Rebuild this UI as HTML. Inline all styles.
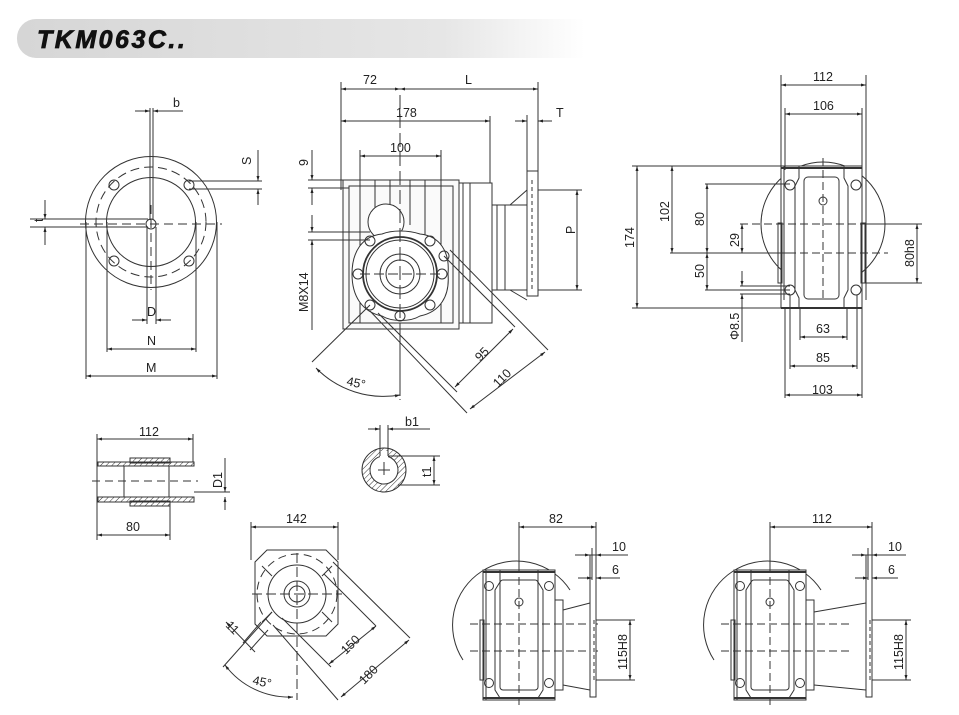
<!DOCTYPE html>
<html><head><meta charset="utf-8"><style>
html,body{margin:0;padding:0;background:#fff;width:959px;height:715px;overflow:hidden}
svg{display:block}
text{font-family:"Liberation Sans",Arial,sans-serif;font-size:12.5px;fill:#222}
</style></head><body>
<svg width="959" height="715" viewBox="0 0 959 715" xmlns="http://www.w3.org/2000/svg">
<defs>
<linearGradient id="tg" x1="0" x2="1" y1="0" y2="0">
<stop offset="0" stop-color="#d6d6d6"/><stop offset="0.75" stop-color="#e6e6e6"/><stop offset="1" stop-color="#fff"/>
</linearGradient>
<marker id="a" viewBox="0 0 10 10" refX="10" refY="5" markerWidth="7" markerHeight="5" orient="auto-start-reverse"><path d="M0,2 L10,5 L0,8z" fill="#222"/></marker>
<pattern id="h" width="4" height="4" patternUnits="userSpaceOnUse" patternTransform="rotate(45)"><line x1="0" y1="0" x2="0" y2="4" stroke="#333" stroke-width="1"/></pattern>
</defs>
<!-- title -->
<path d="M36,19 H585 V58 H36 A19,19 0 0 1 17,39 A19,19 0 0 1 36,19z" fill="url(#tg)"/>
<text x="37" y="48" style="font-size:25px;font-weight:bold;font-style:italic;fill:#111;letter-spacing:2.5px;stroke:#111;stroke-width:0.8">TKM063C..</text>

<g stroke="#333" stroke-width="1" fill="none">
<!-- VIEW 1 flange -->
<circle cx="151" cy="222" r="65.5"/>
<circle cx="151" cy="222" r="55" stroke-dasharray="9,5"/>
<circle cx="151" cy="222" r="44.5"/>
<circle cx="114" cy="185" r="5"/><circle cx="189" cy="185" r="5"/>
<circle cx="114" cy="261" r="5"/><circle cx="189" cy="261" r="5"/>
<circle cx="151" cy="224" r="5"/>
<line x1="80" y1="224" x2="222" y2="224" stroke-dasharray="9,5"/>
<line x1="151" y1="205" x2="151" y2="290" stroke-dasharray="9,5"/>
<line x1="150" y1="108" x2="150" y2="220"/><line x1="153" y1="108" x2="153" y2="220"/>
<line x1="135" y1="111" x2="150" y2="111" marker-end="url(#a)"/><line x1="183" y1="111" x2="153" y2="111" marker-end="url(#a)"/>
<line x1="189" y1="181" x2="262" y2="181"/><line x1="189" y1="189" x2="262" y2="189"/>
<line x1="258" y1="150" x2="258" y2="181" marker-end="url(#a)"/><line x1="258" y1="205" x2="258" y2="189" marker-end="url(#a)"/>
<line x1="30" y1="219" x2="148" y2="219"/><line x1="30" y1="227" x2="148" y2="227"/>
<line x1="45" y1="200" x2="45" y2="219" marker-end="url(#a)"/><line x1="45" y1="245" x2="45" y2="227" marker-end="url(#a)"/>
<line x1="147" y1="227" x2="147" y2="324"/><line x1="156" y1="227" x2="156" y2="324"/>
<line x1="132" y1="320" x2="147" y2="320" marker-end="url(#a)"/><line x1="171" y1="320" x2="156" y2="320" marker-end="url(#a)"/>
<line x1="107" y1="222" x2="107" y2="352"/><line x1="196" y1="222" x2="196" y2="352"/>
<line x1="107" y1="349" x2="196" y2="349" marker-start="url(#a)" marker-end="url(#a)"/>
<line x1="86" y1="222" x2="86" y2="379"/><line x1="217" y1="222" x2="217" y2="379"/>
<line x1="86" y1="376" x2="217" y2="376" marker-start="url(#a)" marker-end="url(#a)"/>

<!-- VIEW 2 main -->
<rect x="343" y="180" width="116" height="149" fill="#fafafa"/>
<rect x="349" y="186" width="104" height="137"/>
<line x1="360" y1="186" x2="360" y2="323"/><line x1="441" y1="186" x2="441" y2="323"/>
<line x1="375" y1="180" x2="375" y2="222"/><line x1="425" y1="180" x2="425" y2="240"/>
<line x1="410" y1="180" x2="410" y2="225"/><line x1="390" y1="180" x2="390" y2="205"/>
<rect x="459" y="183" width="33" height="140"/>
<line x1="463" y1="183" x2="463" y2="323"/><line x1="470" y1="183" x2="470" y2="323"/>
<path d="M492,205 H527 M492,290 H527 M497,205 V290 M505,205 V290 M510,205 L527,190 M510,290 L527,300"/>
<rect x="527" y="171" width="11" height="125"/>
<line x1="532" y1="180" x2="532" y2="290" stroke-dasharray="4,3"/>
<circle cx="386" cy="222" r="18" fill="#fff"/>
<path d="M352,274 C352,252 362,236 382,234 C392,230 408,230 420,234 C440,236 450,252 448,274 C450,296 440,312 420,316 C410,322 392,322 382,316 C362,312 352,296 352,274z" fill="#fff"/>
<circle cx="400" cy="274" r="37" stroke-width="1.8"/>
<circle cx="400" cy="274" r="34"/>
<circle cx="400" cy="274" r="20"/><circle cx="400" cy="274" r="14"/>
<circle cx="370" cy="241" r="5"/><circle cx="430" cy="241" r="5"/>
<circle cx="358" cy="274" r="5"/><circle cx="442" cy="274" r="5"/>
<circle cx="370" cy="305" r="5"/><circle cx="430" cy="305" r="5"/>
<circle cx="400" cy="316" r="5"/><circle cx="444" cy="256" r="5"/>
<line x1="400" y1="95" x2="400" y2="400" stroke-dasharray="14,5"/>
<line x1="360" y1="274" x2="440" y2="274" stroke-dasharray="10,4"/>
<line x1="341" y1="82" x2="341" y2="190"/><line x1="538" y1="82" x2="538" y2="171"/>
<line x1="341" y1="89" x2="400" y2="89" marker-start="url(#a)" marker-end="url(#a)"/>
<line x1="400" y1="89" x2="538" y2="89" marker-start="url(#a)" marker-end="url(#a)"/>
<line x1="490" y1="116" x2="490" y2="183"/>
<line x1="341" y1="121" x2="490" y2="121" marker-start="url(#a)" marker-end="url(#a)"/>
<line x1="360" y1="150" x2="360" y2="186"/><line x1="441" y1="150" x2="441" y2="186"/>
<line x1="360" y1="156" x2="441" y2="156" marker-start="url(#a)" marker-end="url(#a)"/>
<line x1="527" y1="115" x2="527" y2="171"/>
<line x1="515" y1="121" x2="527" y2="121" marker-end="url(#a)"/><line x1="552" y1="121" x2="538" y2="121" marker-end="url(#a)"/>
<line x1="538" y1="190" x2="582" y2="190"/><line x1="538" y1="290" x2="582" y2="290"/>
<line x1="577" y1="190" x2="577" y2="290" marker-start="url(#a)" marker-end="url(#a)"/>
<line x1="308" y1="180" x2="349" y2="180"/><line x1="308" y1="188" x2="349" y2="188"/>
<line x1="312" y1="150" x2="312" y2="180" marker-end="url(#a)"/><line x1="312" y1="205" x2="312" y2="188" marker-end="url(#a)"/>
<line x1="308" y1="232" x2="370" y2="232"/><line x1="308" y1="240" x2="370" y2="240"/>
<line x1="312" y1="215" x2="312" y2="232" marker-end="url(#a)"/><line x1="312" y1="330" x2="312" y2="240" marker-end="url(#a)"/>
<!-- diagonals -->
<line x1="370" y1="305" x2="312" y2="362"/><line x1="400" y1="330" x2="400" y2="396"/>
<path d="M316,368 A95,95 0 0 0 400,395" marker-start="url(#a)" marker-end="url(#a)"/>
<line x1="378" y1="313" x2="457" y2="392"/><line x1="444" y1="256" x2="515" y2="327"/>
<line x1="455" y1="387" x2="513" y2="329" marker-start="url(#a)" marker-end="url(#a)"/>
<line x1="370" y1="311" x2="467" y2="413"/><line x1="450" y1="250" x2="548" y2="350"/>
<line x1="470" y1="409" x2="545" y2="352" marker-start="url(#a)" marker-end="url(#a)"/>

<!-- VIEW 3 right -->
<circle cx="823" cy="224" r="62"/>
<rect x="781" y="166" width="81" height="142" fill="#fff"/>
<path d="M784,166 V300 M799,166 V178 L795,186 V290 L799,298 V308 M844,166 V178 L848,186 V290 L844,298 V308"/>
<rect x="804" y="177" width="35" height="122" rx="4"/>
<line x1="781" y1="168" x2="862" y2="168" stroke-width="2"/>
<line x1="781" y1="308" x2="862" y2="308" stroke-width="2"/>
<circle cx="790" cy="185" r="5"/><circle cx="856" cy="185" r="5"/>
<circle cx="790" cy="290" r="5"/><circle cx="856" cy="290" r="5"/>
<circle cx="823" cy="201" r="4"/>
<rect x="861" y="223" width="4" height="60"/><rect x="778" y="223" width="4" height="60"/>
<line x1="823" y1="158" x2="823" y2="300" stroke-dasharray="8,4"/>
<line x1="740" y1="224" x2="888" y2="224" stroke-dasharray="8,4"/>
<line x1="740" y1="253" x2="888" y2="253" stroke-dasharray="8,4"/>
<line x1="781" y1="75" x2="781" y2="170"/><line x1="866" y1="75" x2="866" y2="300"/>
<line x1="781" y1="85" x2="866" y2="85" marker-start="url(#a)" marker-end="url(#a)"/>
<line x1="785" y1="108" x2="785" y2="170"/><line x1="862" y1="108" x2="862" y2="170"/>
<line x1="785" y1="114" x2="862" y2="114" marker-start="url(#a)" marker-end="url(#a)"/>
<line x1="632" y1="166" x2="781" y2="166"/><line x1="632" y1="308" x2="781" y2="308"/>
<line x1="637" y1="166" x2="637" y2="308" marker-start="url(#a)" marker-end="url(#a)"/>
<line x1="670" y1="253" x2="790" y2="253"/>
<line x1="672" y1="166" x2="672" y2="253" marker-start="url(#a)" marker-end="url(#a)"/>
<line x1="705" y1="184" x2="790" y2="184"/><line x1="705" y1="290" x2="790" y2="290"/>
<line x1="707" y1="184" x2="707" y2="253" marker-start="url(#a)" marker-end="url(#a)"/>
<line x1="707" y1="253" x2="707" y2="290" marker-start="url(#a)" marker-end="url(#a)"/>
<line x1="742" y1="224" x2="742" y2="253" marker-start="url(#a)" marker-end="url(#a)"/>
<line x1="740" y1="286" x2="790" y2="286"/><line x1="740" y1="294" x2="790" y2="294"/>
<line x1="742" y1="271" x2="742" y2="286" marker-end="url(#a)"/><line x1="742" y1="342" x2="742" y2="294" marker-end="url(#a)"/>
<line x1="866" y1="224" x2="922" y2="224"/><line x1="866" y1="283" x2="922" y2="283"/>
<line x1="917" y1="224" x2="917" y2="283" marker-start="url(#a)" marker-end="url(#a)"/>
<line x1="800" y1="308" x2="800" y2="340"/><line x1="847" y1="308" x2="847" y2="340"/>
<line x1="800" y1="337" x2="847" y2="337" marker-start="url(#a)" marker-end="url(#a)"/>
<line x1="790" y1="295" x2="790" y2="369"/><line x1="857" y1="295" x2="857" y2="369"/>
<line x1="790" y1="366" x2="857" y2="366" marker-start="url(#a)" marker-end="url(#a)"/>
<line x1="785" y1="308" x2="785" y2="398"/><line x1="862" y1="308" x2="862" y2="398"/>
<line x1="785" y1="395" x2="862" y2="395" marker-start="url(#a)" marker-end="url(#a)"/>

<!-- shaft section -->
<rect x="98" y="462" width="96" height="4" fill="url(#h)"/>
<rect x="98" y="497" width="96" height="5" fill="url(#h)"/>
<rect x="130" y="458" width="40" height="5" fill="url(#h)"/>
<rect x="130" y="501" width="40" height="5" fill="url(#h)"/>
<line x1="98" y1="466" x2="194" y2="466"/><line x1="98" y1="497" x2="194" y2="497"/>
<line x1="124" y1="466" x2="124" y2="497"/><line x1="169" y1="466" x2="169" y2="497"/>
<line x1="92" y1="481" x2="198" y2="481" stroke-dasharray="8,5"/>
<line x1="97" y1="434" x2="97" y2="540"/><line x1="193" y1="434" x2="193" y2="462"/>
<line x1="97" y1="439" x2="193" y2="439" marker-start="url(#a)" marker-end="url(#a)"/>
<line x1="170" y1="506" x2="170" y2="540"/>
<line x1="97" y1="535" x2="170" y2="535" marker-start="url(#a)" marker-end="url(#a)"/>
<line x1="194" y1="492" x2="230" y2="492"/>
<line x1="225" y1="458" x2="225" y2="492" marker-end="url(#a)"/><line x1="225" y1="510" x2="225" y2="497" marker-end="url(#a)"/>
<!-- key section -->
<circle cx="384" cy="470" r="22" fill="url(#h)"/>
<circle cx="384" cy="470" r="14" fill="#fff"/>
<rect x="380" y="451" width="8" height="8" fill="#fff" stroke="none"/>
<line x1="380" y1="425" x2="380" y2="456"/><line x1="388" y1="425" x2="388" y2="456"/>
<line x1="368" y1="429" x2="380" y2="429" marker-end="url(#a)"/><line x1="430" y1="429" x2="388" y2="429" marker-end="url(#a)"/>
<line x1="388" y1="456" x2="440" y2="456"/><line x1="398" y1="485" x2="440" y2="485"/>
<line x1="434" y1="456" x2="434" y2="485" marker-start="url(#a)" marker-end="url(#a)"/>
<line x1="384" y1="462" x2="384" y2="475"/><line x1="378" y1="470" x2="390" y2="470"/>

<!-- bottom flange view -->
<path d="M267,550 H326 L338,562 V624 L326,636 H267 L255,624 V562z"/>
<circle cx="297" cy="594" r="40" stroke-dasharray="8,5"/>
<circle cx="297" cy="594" r="29"/>
<circle cx="297" cy="594" r="13"/><circle cx="297" cy="594" r="8"/>
<line x1="297" y1="553" x2="297" y2="700" stroke-dasharray="10,4"/>
<line x1="252" y1="594" x2="342" y2="594" stroke-dasharray="10,4"/>
<line x1="262" y1="566" x2="272" y2="576"/><line x1="332" y1="566" x2="322" y2="576"/>
<line x1="262" y1="622" x2="272" y2="612"/><line x1="332" y1="622" x2="322" y2="612"/>
<line x1="251" y1="522" x2="251" y2="560"/><line x1="338" y1="522" x2="338" y2="560"/>
<line x1="251" y1="527" x2="338" y2="527" marker-start="url(#a)" marker-end="url(#a)"/>
<line x1="272" y1="612" x2="223" y2="667"/><line x1="261" y1="622" x2="243" y2="643"/><line x1="268" y1="630" x2="250" y2="650"/>
<line x1="226" y1="622" x2="255" y2="652" marker-start="url(#a)"/>
<path d="M225,665 A80,80 0 0 0 293,697" marker-start="url(#a)" marker-end="url(#a)"/>
<line x1="282" y1="618" x2="331" y2="667"/><line x1="324" y1="574" x2="376" y2="626"/>
<line x1="329" y1="664" x2="376" y2="626" marker-start="url(#a)" marker-end="url(#a)"/>
<line x1="273" y1="625" x2="338" y2="700"/><line x1="333" y1="562" x2="410" y2="638"/>
<line x1="341" y1="697" x2="409" y2="640" marker-start="url(#a)" marker-end="url(#a)"/>

<!-- bottom view A -->
<g id="bv">
<path d="M463,660 A60,60 0 0 1 570,590"/>
<rect x="483" y="570" width="72" height="130" fill="#fff"/>
<path d="M486,570 V700 M500,570 V582 L495,590 V690 L500,698 M538,570 V582 L543,590 V690 L538,698"/>
<rect x="500" y="580" width="38" height="110" rx="3"/>
<line x1="483" y1="572" x2="555" y2="572" stroke-width="2"/><line x1="483" y1="698" x2="555" y2="698" stroke-width="2"/>
<circle cx="489" cy="586" r="4.5"/><circle cx="549" cy="586" r="4.5"/>
<circle cx="489" cy="683" r="4.5"/><circle cx="549" cy="683" r="4.5"/>
<circle cx="519" cy="602" r="4"/>
<rect x="480" y="620" width="4" height="60"/>
<rect x="555" y="600" width="8" height="90"/>
<line x1="519" y1="565" x2="519" y2="705" stroke-dasharray="8,4"/>
<line x1="470" y1="624" x2="600" y2="624" stroke-dasharray="8,4"/>
<line x1="470" y1="651" x2="600" y2="651" stroke-dasharray="8,4"/>
<line x1="519" y1="522" x2="519" y2="568"/>
</g>
<path d="M563,610 L590,603 M563,685 L590,690"/>
<rect x="590" y="555" width="6" height="142" fill="#fff"/>
<line x1="594" y1="620" x2="594" y2="680" stroke-dasharray="4,3"/>
<line x1="596" y1="522" x2="596" y2="555"/>
<line x1="519" y1="527" x2="596" y2="527" marker-start="url(#a)" marker-end="url(#a)"/>
<line x1="575" y1="555" x2="590" y2="555" marker-end="url(#a)"/><line x1="628" y1="555" x2="596" y2="555" marker-end="url(#a)"/>
<line x1="578" y1="578" x2="592" y2="578" marker-end="url(#a)"/><line x1="620" y1="578" x2="596" y2="578" marker-end="url(#a)"/>
<line x1="592" y1="548" x2="592" y2="580"/>
<line x1="596" y1="620" x2="635" y2="620"/><line x1="596" y1="680" x2="635" y2="680"/>
<line x1="630" y1="620" x2="630" y2="680" marker-start="url(#a)" marker-end="url(#a)"/>
<!-- bottom view B -->
<use href="#bv" transform="translate(251,0)"/>
<path d="M814,612 L866,603 M814,685 L866,690"/>
<rect x="866" y="555" width="6" height="142" fill="#fff"/>
<line x1="870" y1="620" x2="870" y2="680" stroke-dasharray="4,3"/>
<line x1="872" y1="522" x2="872" y2="555"/>
<line x1="770" y1="527" x2="872" y2="527" marker-start="url(#a)" marker-end="url(#a)"/>
<line x1="852" y1="555" x2="866" y2="555" marker-end="url(#a)"/><line x1="906" y1="555" x2="872" y2="555" marker-end="url(#a)"/>
<line x1="855" y1="578" x2="868" y2="578" marker-end="url(#a)"/><line x1="898" y1="578" x2="872" y2="578" marker-end="url(#a)"/>
<line x1="868" y1="548" x2="868" y2="580"/>
<line x1="872" y1="620" x2="911" y2="620"/><line x1="872" y1="680" x2="911" y2="680"/>
<line x1="906" y1="620" x2="906" y2="680" marker-start="url(#a)" marker-end="url(#a)"/>
</g>

<!-- labels -->
<text x="173" y="107">b</text>
<text x="0" y="0" transform="translate(251,165) rotate(-90)">S</text>
<text x="0" y="0" transform="translate(43,222) rotate(-90)">t</text>
<text x="147" y="316">D</text>
<text x="147" y="345">N</text>
<text x="146" y="372">M</text>
<text x="363" y="84">72</text>
<text x="465" y="84">L</text>
<text x="396" y="117">178</text>
<text x="390" y="152">100</text>
<text x="556" y="117">T</text>
<text x="0" y="0" transform="translate(575,234) rotate(-90)">P</text>
<text x="0" y="0" transform="translate(308,166) rotate(-90)">9</text>
<text x="0" y="0" transform="translate(308,312) rotate(-90)">M8X14</text>
<text x="0" y="0" transform="translate(346,385) rotate(12)">45°</text>
<text x="0" y="0" transform="translate(480,362) rotate(-45)">95</text>
<text x="0" y="0" transform="translate(498,388) rotate(-45)">110</text>
<text x="813" y="81">112</text>
<text x="813" y="110">106</text>
<text x="0" y="0" transform="translate(634,248) rotate(-90)">174</text>
<text x="0" y="0" transform="translate(669,222) rotate(-90)">102</text>
<text x="0" y="0" transform="translate(704,226) rotate(-90)">80</text>
<text x="0" y="0" transform="translate(739,247) rotate(-90)">29</text>
<text x="0" y="0" transform="translate(704,278) rotate(-90)">50</text>
<text x="0" y="0" transform="translate(739,340) rotate(-90)">Φ8.5</text>
<text x="0" y="0" transform="translate(914,267) rotate(-90)">80h8</text>
<text x="816" y="333">63</text>
<text x="816" y="362">85</text>
<text x="812" y="394">103</text>
<text x="139" y="436">112</text>
<text x="126" y="531">80</text>
<text x="0" y="0" transform="translate(222,488) rotate(-90)">D1</text>
<text x="405" y="426">b1</text>
<text x="0" y="0" transform="translate(431,477) rotate(-90)">t1</text>
<text x="286" y="523">142</text>
<text x="0" y="0" transform="translate(225,626) rotate(45)">11</text>
<text x="0" y="0" transform="translate(252,684) rotate(12)">45°</text>
<text x="0" y="0" transform="translate(346,655) rotate(-45)">150</text>
<text x="0" y="0" transform="translate(364,685) rotate(-45)">180</text>
<text x="549" y="523">82</text>
<text x="612" y="551">10</text>
<text x="612" y="574">6</text>
<text x="0" y="0" transform="translate(627,670) rotate(-90)">115H8</text>
<text x="812" y="523">112</text>
<text x="888" y="551">10</text>
<text x="888" y="574">6</text>
<text x="0" y="0" transform="translate(903,670) rotate(-90)">115H8</text>
</svg>
</body></html>
